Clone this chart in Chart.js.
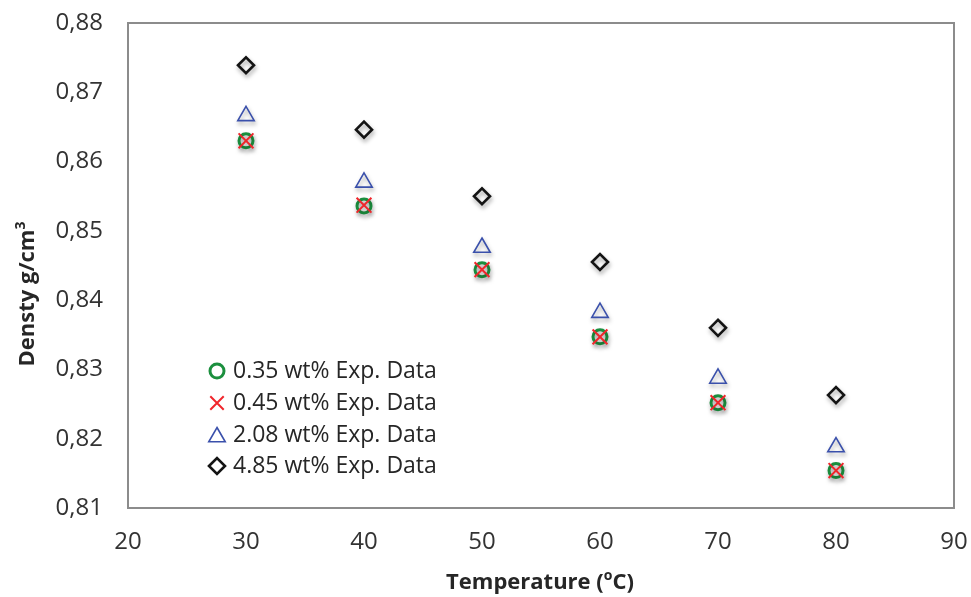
<!DOCTYPE html>
<html>
<head>
<meta charset="utf-8">
<script src="https://cdn.jsdelivr.net/npm/chart.js@4.4.0/dist/chart.umd.min.js"></script>
<style>
  body { margin: 0; background: #fff; }
  #wrap { width: 971px; height: 597px; }
</style>
</head>
<body>
<div id="wrap"><canvas id="densityChart"></canvas></div>
<script>
// values
const temperatures = [30, 40, 50, 60, 70, 80];
const density035 = [0.8630, 0.8536, 0.8444, 0.8347, 0.8252, 0.8154];
const density045 = [0.8630, 0.8537, 0.8444, 0.8347, 0.8252, 0.8154];
const density208 = [0.8666, 0.8570, 0.8476, 0.8382, 0.8287, 0.8188];
const density485 = [0.8739, 0.8646, 0.8550, 0.8455, 0.8360, 0.8263];
const seriesNames = ['0.35 wt% Exp. Data', '0.45 wt% Exp. Data', '2.08 wt% Exp. Data', '4.85 wt% Exp. Data'];
const xTicks = [20, 30, 40, 50, 60, 70, 80, 90];
const yTicks = [0.81, 0.82, 0.83, 0.84, 0.85, 0.86, 0.87, 0.88];

const FONT = "'Open Sans', sans-serif";

const points = (ys) => temperatures.map((t, i) => ({ x: t, y: ys[i] }));

// setup
const data = {
  datasets: [{
    label: seriesNames[0],
    data: points(density035),
    pointStyle: 'circle',
    radius: 7,
    borderWidth: 3,
    borderColor: '#1b8f3e',
    backgroundColor: 'rgba(0,0,0,0)',
    order: 1
  }, {
    label: seriesNames[1],
    data: points(density045),
    pointStyle: 'crossRot',
    radius: 10.5,
    borderWidth: 2,
    borderColor: '#f0262c',
    backgroundColor: 'rgba(0,0,0,0)',
    order: 0
  }, {
    label: seriesNames[2],
    data: points(density208),
    pointStyle: 'triangle',
    radius: 9.5,
    borderWidth: 1.6,
    borderColor: '#3a50ab',
    backgroundColor: 'rgba(0,0,0,0)',
    order: 0
  }, {
    label: seriesNames[3],
    data: points(density485),
    pointStyle: 'rectRot',
    radius: 8,
    borderWidth: 2.6,
    borderColor: '#141414',
    backgroundColor: 'rgba(0,0,0,0)',
    order: 0
  }]
};

// grey box round the plot area
const frame = {
  id: 'frame',
  beforeDatasetsDraw(chart) {
    const { ctx, chartArea: a } = chart;
    ctx.save();
    ctx.strokeStyle = '#8c8c8c';
    ctx.lineWidth = 2;
    ctx.strokeRect(a.left, a.top, a.right - a.left, a.bottom - a.top);
    ctx.restore();
  }
};

// soft drop shadow under markers, like the original
const shadow = {
  id: 'shadow',
  beforeDatasetsDraw(chart) {
    const ctx = chart.ctx;
    ctx.save();
    ctx.shadowColor = 'rgba(0,0,0,0.35)';
    ctx.shadowBlur = 4;
    ctx.shadowOffsetX = 1;
    ctx.shadowOffsetY = 3;
  },
  afterDatasetsDraw(chart) {
    chart.ctx.restore();
  }
};

// legend inside the plot and axis titles with superscripts
const labels = {
  id: 'labels',
  afterDraw(chart) {
    const ctx = chart.ctx;
    ctx.save();

    // legend
    const rowY = [371, 403, 435, 466];
    chart.data.datasets.forEach((ds, i) => {
      ctx.save();
      ctx.strokeStyle = ds.borderColor;
      ctx.fillStyle = 'rgba(0,0,0,0)';
      ctx.lineWidth = ds.borderWidth;
      Chart.helpers.drawPoint(ctx, {
        pointStyle: ds.pointStyle,
        radius: ds.pointStyle === 'crossRot' ? 9.5 : ds.radius,
        rotation: 0,
        borderWidth: ds.borderWidth
      }, 217, rowY[i] + (ds.pointStyle === 'triangle' ? 2 : 0));
      ctx.restore();
      ctx.fillStyle = '#262626';
      ctx.font = '23px ' + FONT;
      ctx.textBaseline = 'middle';
      ctx.textAlign = 'left';
      ctx.fillText(seriesNames[i], 233, rowY[i]);
    });

    ctx.fillStyle = '#262626';
    ctx.textBaseline = 'alphabetic';
    ctx.textAlign = 'left';

    // x title: Temperature (oC)
    const big = 'bold 22px ' + FONT;
    const small = 'bold 14px ' + FONT;
    const parts = [['Temperature (', big, 0], ['o', small, -9], ['C)', big, 0]];
    let total = 0;
    parts.forEach(p => { ctx.font = p[1]; total += ctx.measureText(p[0]).width; });
    let x = 540 - total / 2;
    parts.forEach(p => {
      ctx.font = p[1];
      ctx.fillText(p[0], x, 589 + p[2]);
      x += ctx.measureText(p[0]).width;
    });

    // y title: Densty g/cm3
    ctx.translate(34, 294);
    ctx.rotate(-Math.PI / 2);
    const yparts = [['Densty g/cm', big, 0], ['3', small, -9]];
    total = 0;
    yparts.forEach(p => { ctx.font = p[1]; total += ctx.measureText(p[0]).width; });
    x = -total / 2;
    yparts.forEach(p => {
      ctx.font = p[1];
      ctx.fillText(p[0], x, p[2]);
      x += ctx.measureText(p[0]).width;
    });

    ctx.restore();
  }
};

// config
const config = {
  type: 'scatter',
  data,
  options: {
    responsive: true,
    maintainAspectRatio: false,
    animation: false,
    layout: { padding: { top: 23, right: 17, left: 0, bottom: 0 } },
    plugins: {
      legend: { display: false },
      tooltip: { enabled: false }
    },
    scales: {
      x: {
        type: 'linear',
        min: 20,
        max: 90,
        afterBuildTicks: (s) => { s.ticks = xTicks.map(v => ({ value: v })); },
        afterFit: (s) => { s.height = 89; s.paddingLeft = 0; s.paddingRight = 0; },
        grid: { display: false, drawTicks: false },
        border: { display: false },
        ticks: { color: '#333', padding: 20, font: { family: FONT, size: 24 } }
      },
      y: {
        min: 0.81,
        max: 0.88,
        afterBuildTicks: (s) => { s.ticks = yTicks.map(v => ({ value: v })); },
        afterFit: (s) => { s.width = 128; s.paddingTop = 0; s.paddingBottom = 0; },
        grid: { display: false, drawTicks: false },
        border: { display: false },
        ticks: {
          color: '#333',
          padding: 25,
          font: { family: FONT, size: 24 },
          callback: (v) => v.toFixed(2).replace('.', ',')
        }
      }
    }
  },
  plugins: [frame, shadow, labels]
};

// render
const densityChart = new Chart(document.getElementById('densityChart'), config);
</script>
</body>
</html>
